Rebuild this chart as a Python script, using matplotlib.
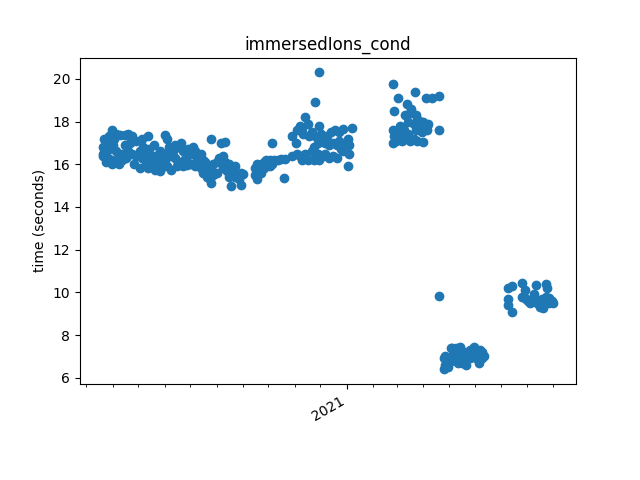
import datetime as dt
import matplotlib
matplotlib.use("Agg")
import matplotlib.pyplot as plt
import matplotlib.dates as mdates

# benchmark runs: date -> measured times (seconds)
run_dates = [
    # spring/summer 2020
    "2020-03-20", "2020-03-21", "2020-03-22", "2020-03-24", "2020-03-26", "2020-03-28",
    "2020-03-31", "2020-04-01", "2020-04-03", "2020-04-05", "2020-04-08", "2020-04-10",
    "2020-04-12", "2020-04-15", "2020-04-17", "2020-04-19", "2020-04-21", "2020-04-24",
    "2020-04-26", "2020-04-28", "2020-05-03", "2020-05-05", "2020-05-07", "2020-05-10",
    "2020-05-12", "2020-05-14", "2020-05-17", "2020-05-19", "2020-05-21", "2020-05-24",
    "2020-05-26", "2020-05-28", "2020-05-31", "2020-06-01", "2020-06-04", "2020-06-06",
    "2020-06-08", "2020-06-11", "2020-06-13", "2020-06-15", "2020-06-17", "2020-06-20",
    "2020-06-22", "2020-06-24", "2020-06-27", "2020-06-29", "2020-07-02", "2020-07-04",
    "2020-07-07", "2020-07-09", "2020-07-11", "2020-07-14", "2020-07-16", "2020-07-18",
    "2020-07-21", "2020-07-23", "2020-07-25", "2020-07-28", "2020-07-30", "2020-08-02",
    "2020-08-04", "2020-08-06", "2020-08-09", "2020-08-11", "2020-08-13", "2020-08-16",
    "2020-08-18", "2020-08-20", "2020-08-23", "2020-08-25", "2020-08-27", "2020-08-30",
    "2020-09-01",
    # autumn 2020
    "2020-09-15", "2020-09-17", "2020-09-19", "2020-09-22", "2020-09-24", "2020-09-26",
    "2020-09-28", "2020-10-01", "2020-10-03", "2020-10-05", "2020-10-08", "2020-10-12",
    "2020-10-16", "2020-10-19", "2020-10-21",
    # winter 2020/21
    "2020-10-29", "2020-11-02", "2020-11-04", "2020-11-07", "2020-11-09", "2020-11-11",
    "2020-11-13", "2020-11-16", "2020-11-18", "2020-11-21", "2020-11-23", "2020-11-25",
    "2020-11-28", "2020-11-30", "2020-12-02", "2020-12-04", "2020-12-07", "2020-12-09",
    "2020-12-11", "2020-12-14", "2020-12-16", "2020-12-18", "2020-12-21", "2020-12-23",
    "2020-12-25", "2020-12-28", "2020-12-30", "2021-01-02", "2021-01-04", "2021-01-07",
    # spring 2021
    "2021-02-24", "2021-02-26", "2021-02-28", "2021-03-02", "2021-03-05", "2021-03-07",
    "2021-03-09", "2021-03-11", "2021-03-13", "2021-03-14", "2021-03-16", "2021-03-18",
    "2021-03-21", "2021-03-22", "2021-03-23", "2021-03-25", "2021-03-28", "2021-03-30",
    "2021-04-01", "2021-04-03", "2021-04-04", "2021-04-05", "2021-04-07", "2021-04-11",
    "2021-04-20",
    # after the speedup
    "2021-04-25", "2021-04-27", "2021-04-30", "2021-05-03", "2021-05-05", "2021-05-07",
    "2021-05-10", "2021-05-12", "2021-05-14", "2021-05-17", "2021-05-19", "2021-05-21",
    "2021-05-24", "2021-05-26", "2021-05-28", "2021-05-31", "2021-06-02", "2021-06-05",
    "2021-06-07", "2021-06-09", "2021-06-11",
    # summer 2021
    "2021-07-10", "2021-07-14", "2021-07-26", "2021-07-29", "2021-07-31", "2021-08-02",
    "2021-08-04", "2021-08-06", "2021-08-09", "2021-08-11", "2021-08-13", "2021-08-16",
    "2021-08-18", "2021-08-20", "2021-08-23", "2021-08-25", "2021-08-27", "2021-08-30",
    "2021-09-01",
]

run_times = [
    [16.5], [16.8, 16.4], [17.2, 16.5], [16.6, 16.1], [17.0, 16.3], [17.3, 16.7],
    [17.6, 16.2, 16.0], [16.9], [17.2, 16.1], [17.4, 16.6], [16.3, 16.0], [17.35],
    [16.5, 16.2], [17.35, 16.9], [16.3], [17.4, 16.6], [17.0], [17.3, 16.5],
    [16.0], [17.1, 16.4], [16.6, 15.8], [17.2, 16.3], [16.8], [16.5, 16.1],
    [17.3, 15.8], [16.7, 16.0], [16.3], [16.9, 16.1], [16.4, 15.75], [16.2],
    [16.6, 15.7], [16.0], [16.5, 15.9], [17.35, 16.2], [17.2, 15.9], [16.8],
    [16.4, 15.75], [16.6], [16.9, 16.3], [15.9], [16.8, 16.1], [17.0],
    [16.6, 15.9], [16.2], [16.4, 15.95], [16.7], [16.5, 16.0], [16.8],
    [16.6, 15.9], [16.2], [16.4, 16.0], [16.5, 15.8], [16.2, 15.6], [16.1],
    [15.9, 15.4], [15.35, 15.7], [17.2, 15.1], [16.0, 15.5], [15.6], [16.1, 15.6],
    [16.3], [17.0, 16.2], [16.4, 15.8], [16.1, 17.05], [15.7], [16.0, 15.4],
    [15.0, 15.8], [15.6], [15.4, 15.9], [15.6], [15.3], [15.05, 15.6],
    [15.55],
    [15.8, 15.5], [16.0, 15.3], [15.7], [15.9, 15.6], [16.0], [16.1, 15.8],
    [16.2], [16.1], [16.2, 15.9], [17.0, 16.0], [16.2], [16.2],
    [16.25], [15.35], [16.25],
    [17.3, 16.4], [17.0], [17.6, 16.5], [17.8, 16.4], [17.7, 16.2], [17.4],
    [18.2, 16.5], [17.9, 16.2], [17.3], [17.5, 16.6], [16.2, 16.8], [18.9, 17.3, 16.3],
    [17.0, 16.5], [20.3, 17.8, 16.2], [17.4], [16.4, 17.2], [17.0, 16.5], [17.3],
    [16.9, 16.3], [17.5], [17.0, 16.4], [17.6], [16.9, 16.3], [17.5, 17.1],
    [16.7], [17.65, 16.6], [17.0], [17.2, 15.9], [16.9, 16.5], [17.7],
    [19.75, 17.6, 17.0], [18.5, 17.3], [17.1], [19.1, 17.5], [17.8, 17.2], [17.1],
    [17.6, 17.3], [18.3], [18.8], [18.0, 17.4], [18.4, 17.1], [18.6],
    [17.9, 17.2], [19.4], [18.3, 17.6], [18.1, 17.1], [17.8], [18.0, 17.5],
    [18.0, 17.05], [17.9], [19.1], [17.8, 17.6], [17.9], [19.1],
    [19.2, 17.6, 9.85],
    [6.4, 6.9], [6.6, 7.0], [6.5], [7.4, 6.8], [7.4, 7.0], [6.9],
    [7.4, 6.8], [7.1, 6.7], [7.45], [7.0, 6.7], [7.2], [6.9, 6.6],
    [7.1], [7.3, 6.9], [7.0], [7.45, 7.1], [7.3, 6.9], [6.7],
    [7.3], [6.9, 7.2], [7.0],
    [9.7, 9.4, 10.2], [9.1, 10.3], [9.8, 10.45], [10.1, 9.75], [9.7], [9.6],
    [9.5], [9.6], [9.9], [10.35, 9.6], [9.5], [9.3, 9.6],
    [9.7], [9.25], [10.4, 9.8], [10.2, 9.6], [9.75, 9.5], [9.6],
    [9.5],
]

xs = []
ys = []
for d, vals in zip(run_dates, run_times):
    for v in vals:
        xs.append(dt.datetime.strptime(d, "%Y-%m-%d"))
        ys.append(v)

fig, ax = plt.subplots(figsize=(6.4, 4.8), dpi=100)
ax.scatter(xs, ys)

ax.xaxis.set_major_locator(mdates.YearLocator())
ax.xaxis.set_major_formatter(mdates.DateFormatter("%Y"))
ax.xaxis.set_minor_locator(mdates.MonthLocator())

ax.set_title("immersedIons_cond")
ax.set_ylabel("time (seconds)")
fig.autofmt_xdate()

fig.savefig("out.png")
